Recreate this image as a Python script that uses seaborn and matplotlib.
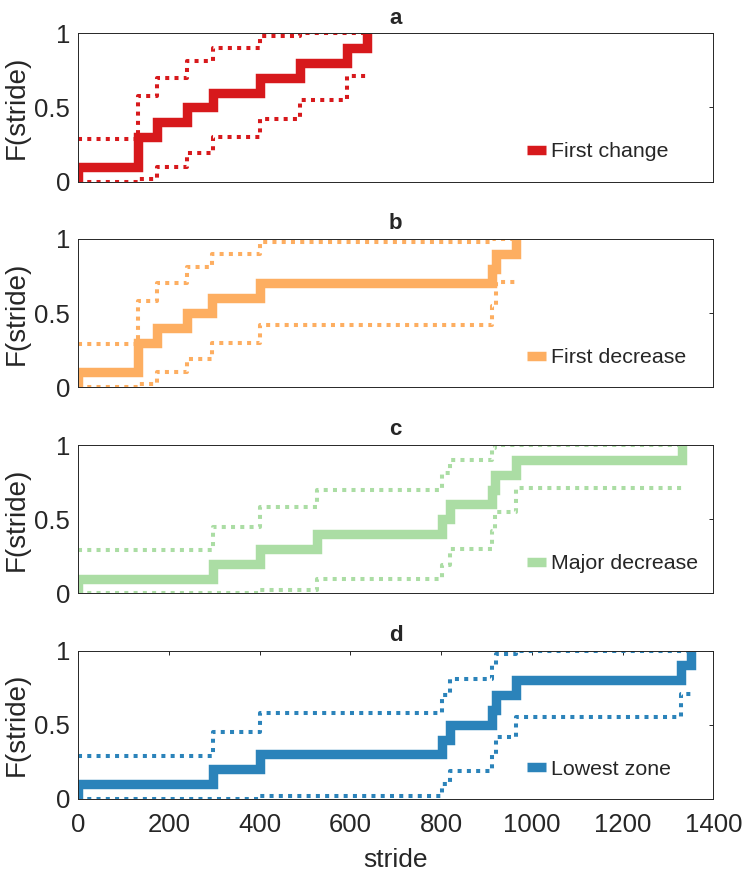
import numpy as np
import seaborn as sns
import matplotlib.pyplot as plt

# strides at which each event happened (10 animals), read from the ECDF steps
change_strides = [0, 132, 132, 173, 239, 298, 400, 489, 592, 636]
change_lo = [0, 0.02, 0.10, 0.19, 0.30, 0.42, 0.55, 0.71, 0.71]
change_hi = [0.29, 0.58, 0.70, 0.81, 0.90, 0.98, 1, 1, 1]

decrease_strides = [0, 131, 131, 173, 240, 294, 401, 912, 920, 966]
decrease_lo = [0, 0.02, 0.10, 0.19, 0.30, 0.42, 0.55, 0.71, 0.71]
decrease_hi = [0.29, 0.58, 0.70, 0.81, 0.90, 0.98, 1, 1, 1]

major_strides = [0, 296, 400, 526, 801, 819, 913, 918, 966, 1330]
major_lo = [0, 0, 0.02, 0.10, 0.19, 0.30, 0.42, 0.55, 0.71, 0.71]
major_hi = [0.29, 0.45, 0.58, 0.70, 0.81, 0.90, 0.98, 1, 1, 1]

lowest_strides = [0, 296, 400, 801, 819, 913, 920, 966, 1328, 1350]
lowest_lo = [0, 0, 0.02, 0.10, 0.19, 0.30, 0.42, 0.55, 0.71, 0.71]
lowest_hi = [0.29, 0.45, 0.58, 0.70, 0.81, 0.90, 0.98, 1, 1, 1]

labels = ["First change", "First decrease", "Major decrease", "Lowest zone"]
letters = ["a", "b", "c", "d"]
colors = ["#d7191c", "#fdae61", "#abdda4", "#2b83ba"]
x_ticks = [0, 200, 400, 600, 800, 1000, 1200, 1400]

panels = [
    (change_strides, change_lo, change_hi),
    (decrease_strides, decrease_lo, decrease_hi),
    (major_strides, major_lo, major_hi),
    (lowest_strides, lowest_lo, lowest_hi),
]

sns.set_style("white")
plt.rcParams["font.family"] = ["Liberation Sans", "DejaVu Sans"]

fig = plt.figure(figsize=(7.44, 8.75), dpi=100)
bottoms = [0.7925, 0.5574, 0.3219, 0.0870]

for i, (strides, lo, hi) in enumerate(panels):
    ax = fig.add_axes([0.1052, bottoms[i], 0.8535, 0.1695])
    col = colors[i]

    # empirical CDF
    sns.ecdfplot(x=strides, ax=ax, color=col, lw=6.8, label=labels[i],
                 solid_joinstyle="miter", solid_capstyle="butt")

    # confidence bounds (stairs over the distinct strides)
    bx = np.unique(strides)
    for bound in (lo, hi):
        sns.lineplot(x=bx, y=bound, ax=ax, color=col, lw=2.9,
                     drawstyle="steps-post", estimator=None, sort=False,
                     linestyle=(0, (1, 1.3)), dash_capstyle="butt")

    ax.set_xlim(0, 1400)
    ax.set_ylim(0, 1)
    ax.set_yticks([0, 0.5, 1])
    ax.set_yticklabels(["0", "0.5", "1"])
    ax.set_ylabel("F(stride)", fontsize=20, labelpad=3, color="#262626")
    ax.set_title(letters[i], fontsize=16, fontweight="bold", pad=7)

    if i == 3:
        ax.set_xticks(x_ticks)
        ax.set_xlabel("stride", fontsize=19, labelpad=8, color="#262626")
    else:
        ax.set_xticks([])
        ax.set_xlabel("")

    ax.tick_params(direction="in", length=3, width=0.7, colors="#262626",
                   labelsize=18.5, right=True, top=(i == 3))
    ax.tick_params(axis="x", pad=10)
    ax.tick_params(axis="y", pad=6)
    for s in ax.spines.values():
        s.set_color("#262626")
        s.set_linewidth(0.7)

    ax.legend(loc="center left", bbox_to_anchor=(0.7066, 0.2), frameon=False,
              fontsize=15.4, handlelength=0.87, handletextpad=0.24,
              borderpad=0, borderaxespad=0)

plt.savefig("out.png", dpi=100)
